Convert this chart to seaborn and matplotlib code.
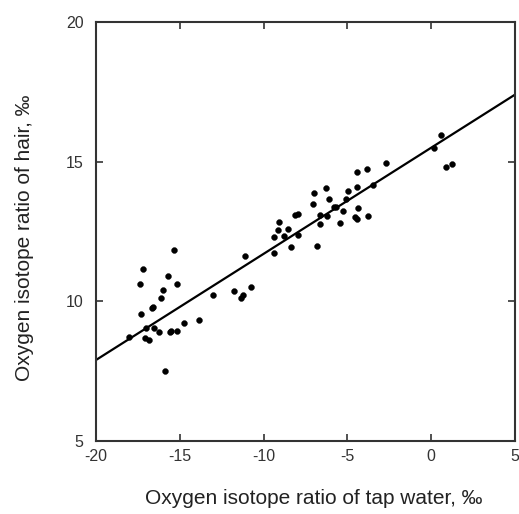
import matplotlib
matplotlib.use("Agg")
import matplotlib.pyplot as plt
import seaborn as sns
import numpy as np
import pandas as pd

tap_water = [-18.05, -17.18, -17.35, -17.31, -17.04, -17.08, -16.86, -16.66, -16.58, -16.56,
             -16.12, -16.00, -16.22, -15.88, -15.68, -15.58, -15.50, -15.35, -15.15, -15.15,
             -14.77, -13.87, -13.02, -11.75, -11.33, -11.25, -11.11, -10.75, -9.40, -9.38,
             -9.14, -9.08, -8.78, -8.52, -8.35, -8.13, -7.97, -7.97, -7.03, -6.97,
             -6.81, -6.63, -6.63, -6.28, -6.22, -6.12, -5.78, -5.68, -5.44, -5.24,
             -5.08, -4.96, -4.55, -4.45, -4.45, -4.45, -4.35, -3.85, -3.79, -3.45,
             -2.70, 0.19, 0.59, 0.88, 1.24]
hair = [8.71, 11.17, 10.62, 9.53, 9.06, 8.69, 8.63, 9.75, 9.81, 9.06,
        10.13, 10.42, 8.89, 7.51, 10.89, 8.89, 8.94, 11.84, 10.62, 8.94,
        9.21, 9.34, 10.24, 10.38, 10.13, 10.24, 11.61, 10.50, 11.74, 12.29,
        12.54, 12.85, 12.34, 12.60, 11.96, 13.09, 13.13, 12.37, 13.47, 13.89,
        11.98, 13.09, 12.76, 14.06, 13.07, 13.65, 13.37, 13.37, 12.79, 13.23,
        13.68, 13.95, 13.02, 12.96, 14.10, 14.64, 13.33, 14.73, 13.07, 14.16,
        14.95, 15.48, 15.97, 14.80, 14.93]

fit_slope = 0.38
fit_intercept = 15.5
fit_x = [-20, 5]

x_ticks = [-20, -15, -10, -5, 0, 5]
y_ticks = [5, 10, 15, 20]
x_label = "Oxygen isotope ratio of tap water, \u2030"
y_label = "Oxygen isotope ratio of hair, \u2030"

sns.set_theme(style="white")
plt.rcParams["font.family"] = ["Liberation Sans", "DejaVu Sans"]

df = pd.DataFrame({"x": tap_water, "y": hair})
line_df = pd.DataFrame({"x": fit_x,
                        "y": [fit_slope * v + fit_intercept for v in fit_x]})

fig = plt.figure(figsize=(5.19, 5.14), dpi=100)
ax = fig.add_axes([96 / 519, 1 - 441 / 514, (515 - 96) / 519, (441 - 22) / 514])

sns.lineplot(data=line_df, x="x", y="y", ax=ax, color="black", linewidth=1.6)
sns.scatterplot(data=df, x="x", y="y", ax=ax, color="black", s=18,
                edgecolor="black", linewidth=0.3, zorder=3)

ax.set_xlim(-20, 5)
ax.set_ylim(5, 20)
ax.set_xticks(x_ticks)
ax.set_yticks(y_ticks)
ax.set_xticklabels([str(t) for t in x_ticks])
ax.set_yticklabels([str(t) for t in y_ticks])
ax.tick_params(direction="in", length=5, width=1.2, color="#333333",
               top=True, right=True, bottom=True, left=True,
               labelsize=11.5, labelcolor="#333333")
ax.tick_params(axis="x", pad=6)
ax.tick_params(axis="y", pad=9)
for sp in ax.spines.values():
    sp.set_visible(True)
    sp.set_linewidth(1.5)
    sp.set_color("#333333")

ax.set_xlabel(x_label, fontsize=15, color="#222222")
ax.set_ylabel(y_label, fontsize=15, color="#222222")
ax.xaxis.set_label_coords(0.52, (441 - 499) / 419)
ax.xaxis.label.set_verticalalignment("center")
ax.yaxis.set_label_coords((25 - 96) / 419, (441 - 238) / 419)
ax.yaxis.label.set_verticalalignment("center")

fig.savefig("out.png", dpi=100)
